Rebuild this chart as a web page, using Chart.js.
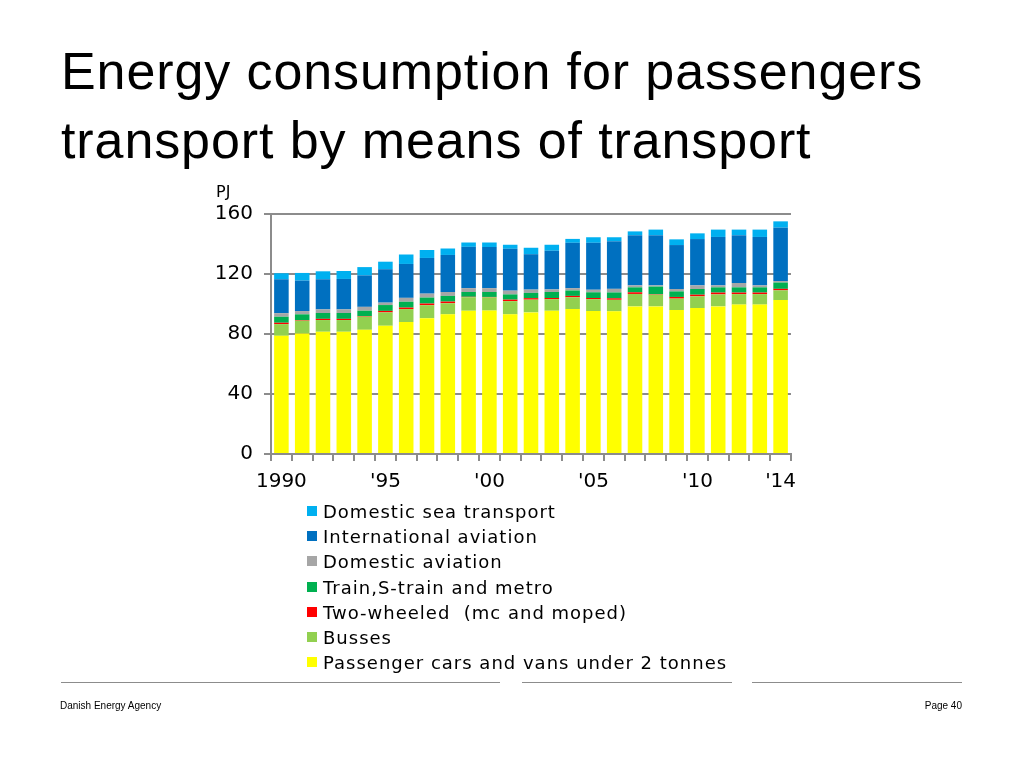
<!DOCTYPE html>
<html>
<head>
<meta charset="utf-8">
<script src="https://cdn.jsdelivr.net/npm/chart.js@4.4.1/dist/chart.umd.min.js"></script>
<style>
  html, body { margin: 0; padding: 0; background: #fff; }
  #page { position: relative; width: 1024px; height: 768px; overflow: hidden; }
  #chart { position: absolute; left: 0; top: 0; }
  .title {
    position: absolute; left: 61px; top: 37px;
    font-family: "Liberation Sans", Arial, sans-serif;
    font-size: 52px; line-height: 69px; letter-spacing: 0.9px; color: #000;
  }
  .unit {
    position: absolute; left: 216px; top: 184px;
    font-family: "DejaVu Sans", sans-serif; font-size: 16px; line-height: 16px;
  }
  #legend {
    position: absolute; left: 307px; top: 499px;
    font-family: "DejaVu Sans", sans-serif; font-size: 18px; letter-spacing: 1px; color: #000;
  }
  #legend .row { height: 25.2px; line-height: 25.2px; white-space: pre; position: relative; }
  #legend .sw { position: absolute; left: 0; top: 7px; width: 10px; height: 10px; }
  #legend .lbl { position: absolute; left: 16px; top: 0; }
  .rule { position: absolute; top: 682px; height: 1px; background: #8c8c8c; }
  .foot {
    position: absolute; top: 700px;
    font-family: "Liberation Sans", Arial, sans-serif; font-size: 10px; line-height: 12px;
  }
</style>
</head>
<body>
<div id="page">
  <canvas id="chart" width="1024" height="768"></canvas>
  <div class="title">Energy consumption for passengers<br>transport by means of transport</div>
  <div class="unit">PJ</div>
  <div id="legend"></div>
  <div class="rule" style="left:61px; width:439px;"></div>
  <div class="rule" style="left:522px; width:210px;"></div>
  <div class="rule" style="left:752px; width:210px;"></div>
  <div class="foot" style="left:60px;">Danish Energy Agency</div>
  <div class="foot" style="right:62px;">Page 40</div>
</div>
<script>
// år 1990-2014
const years = ['1990','1991','1992','1993','1994','1995','1996','1997','1998','1999','2000','2001','2002',
               '2003','2004','2005','2006','2007','2008','2009','2010','2011','2012','2013','2014'];
const tickLabels = ['1990','','','','',"'95",'','','','',"'00",'','','','',"'05",'','','','',"'10",'','','',"'14"];
const yTicks = [0, 40, 80, 120, 160];

// PJ per transportform
const cars        = [78.8, 80.4, 81.5, 81.5, 82.8, 85.5, 88.0, 90.5, 93.1, 95.5, 95.6, 93.1, 94.4,
                     95.5, 96.6, 95.3, 95.1, 98.4, 98.4, 96.0, 97.3, 98.4, 99.6, 99.6, 102.6];
const busses      = [7.8, 8.5, 7.8, 7.8, 8.8, 8.9, 8.6, 8.7, 7.4, 9.0, 8.8, 8.8, 8.5,
                     7.7, 7.9, 7.9, 7.7, 8.3, 7.8, 7.6, 7.8, 8.0, 7.0, 7.0, 6.5];
const twoWheeled  = [0.9, 0.4, 0.8, 0.8, 0.4, 1.0, 1.0, 1.1, 1.1, 0.3, 0.3, 1.0, 1.0,
                     0.8, 0.9, 0.8, 1.0, 1.1, 0.3, 1.1, 1.1, 1.2, 1.0, 1.0, 1.0];
const train       = [4.0, 3.8, 3.9, 3.9, 3.5, 3.9, 3.9, 4.0, 3.8, 3.2, 3.3, 3.5, 3.5,
                     4.0, 3.6, 3.8, 3.9, 3.3, 5.1, 3.7, 3.8, 3.5, 3.5, 3.5, 4.2];
const domAviation = [2.4, 2.2, 2.4, 2.4, 2.6, 1.6, 2.6, 2.6, 2.6, 2.6, 2.6, 2.5, 2.2,
                     1.7, 1.6, 1.7, 2.4, 1.3, 0.8, 1.6, 2.4, 1.3, 2.9, 1.3, 1.0];
const intAviation = [22.6, 20.3, 20.1, 20.3, 21.0, 22.3, 22.6, 23.8, 24.7, 27.5, 27.4, 27.9, 23.6,
                     25.8, 30.2, 31.3, 31.7, 33.4, 33.4, 29.3, 30.9, 32.3, 31.8, 32.3, 35.6];
const domSea      = [4.0, 5.1, 5.3, 5.3, 5.5, 5.0, 6.3, 5.3, 4.3, 2.9, 3.0, 2.7, 4.3,
                     4.0, 2.6, 3.7, 2.7, 2.6, 3.8, 3.8, 3.8, 4.9, 3.8, 4.9, 4.2];

const seriesNames = ['Passenger cars and vans under 2 tonnes', 'Busses', 'Two-wheeled  (mc and moped)',
                     'Train,S-train and metro', 'Domestic aviation', 'International aviation', 'Domestic sea transport'];
const seriesColors = ['#FFFF00', '#92D050', '#FF0000', '#00B050', '#A6A6A6', '#0070C0', '#00B0F0'];
const seriesData = [cars, busses, twoWheeled, train, domAviation, intAviation, domSea];

const axisGray = '#8c8c8c';
const tickFont = { family: 'DejaVu Sans', size: 20 };

const chart = new Chart(document.getElementById('chart'), {
  type: 'bar',
  data: {
    labels: years,
    datasets: seriesData.map((d, i) => ({
      label: seriesNames[i],
      data: d,
      backgroundColor: seriesColors[i],
      borderWidth: 0,
      categoryPercentage: 1,
      barPercentage: 0.7
    }))
  },
  options: {
    responsive: false,
    animation: false,
    layout: { padding: { left: 200, right: 233, top: 214, bottom: 0 } },
    plugins: { legend: { display: false }, tooltip: { enabled: false } },
    scales: {
      x: {
        stacked: true,
        afterFit: s => { s.height = 314; },
        border: { color: axisGray, width: 2 },
        grid: { drawOnChartArea: false, drawTicks: true, tickLength: 7, color: axisGray, lineWidth: 2, offset: true },
        ticks: {
          autoSkip: false, maxRotation: 0, minRotation: 0, padding: 9,
          color: '#000', font: tickFont,
          callback: (v, i) => tickLabels[i]
        }
      },
      y: {
        stacked: true,
        min: 0, max: 160,
        afterFit: s => { s.width = 71; },
        afterBuildTicks: s => { s.ticks = yTicks.map(v => ({ value: v })); },
        border: { color: axisGray, width: 2 },
        grid: { color: axisGray, lineWidth: 2, tickLength: 7 },
        ticks: { padding: 11, color: '#000', font: tickFont }
      }
    }
  }
});

// legend, top item = top of stack
const legend = document.getElementById('legend');
chart.data.datasets.slice().reverse().forEach(ds => {
  const row = document.createElement('div');
  row.className = 'row';
  row.innerHTML = `<span class="sw" style="background:${ds.backgroundColor}"></span><span class="lbl">${ds.label}</span>`;
  legend.appendChild(row);
});
</script>
</body>
</html>
